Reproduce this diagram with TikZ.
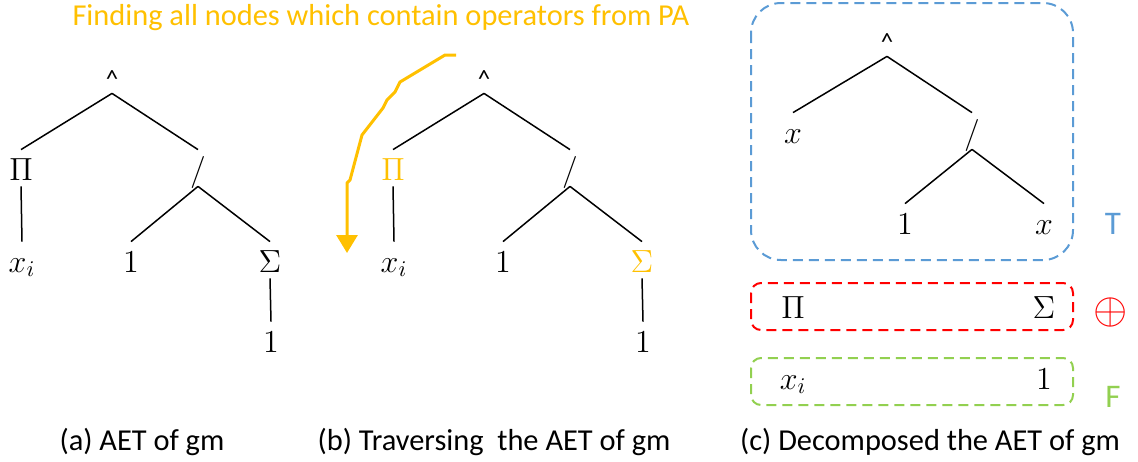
\documentclass[tikz,border=0pt]{standalone}
\usepackage{fix-cm}
\usepackage{fontspec}
\setmainfont{Carlito}
\usetikzlibrary{arrows.meta}
\definecolor{orange538}{RGB}{255,192,0}
\definecolor{blue538}{RGB}{91,155,213}
\definecolor{red538}{RGB}{255,0,0}
\definecolor{green538}{RGB}{146,208,80}

\begin{document}
\begin{tikzpicture}[
          x = 0.5pt, y = -0.5pt,
          font = \fontsize{15.2}{18}\selectfont,
          edge/.style = {draw, line width = 0.75pt},
          part/.style = {dash pattern = on 5pt off 3pt, line width = 1pt}
        ]
          \tikzstyle {sym} = [anchor = base, inner sep = 0, text height = 15pt, text depth = 3pt,
                              font = \fontsize{16}{19}\selectfont]
          \tikzstyle {top} = [sym, font = \fontsize{12.5}{15}\selectfont]
          \tikzstyle {tag} = [font = \fontsize{16.5}{19}\selectfont]
          \useasboundingbox (0,0) rectangle (1138,461);
          % place trees (a) and (b)
          \foreach \t/\dx/\op in {a/0/black, b/372/orange538} {
            \path node (\t0) [top] at ({\dx+112},87) {\textasciicircum};
            \path node (\t1) [sym, text = \op] at ({\dx+21},180) {$\Pi$};
            \path node (\t2) [sym] at ({\dx+198},180) {$/$};
            \path node (\t3) [sym] at ({\dx+22},272) {$x_i$};
            \path node (\t4) [sym] at ({\dx+131},272) {$1$};
            \path node (\t5) [sym, text = \op] at ({\dx+270},272) {$\Sigma$};
            \path node (\t6) [sym] at ({\dx+271},352) {$1$};
            \foreach \p/\c in {0/1, 0/2, 1/3, 2/4, 2/5, 5/6}
              { \draw [edge] (\t\p.south) -- (\t\c.north) ; } ;
          }
          % traversal arrow
          \path node (title) [text = orange538] at (381,18) {Finding all nodes which contain operators from PA};
          \coordinate (walk) at (456,55);
          \draw [orange538, line width = 1.5pt, line join = round, -{Triangle[width = 10.5pt, length = 9pt]}]
            (walk) -- (445,55) -- (400,82) -- (395,92) -- (387,100) -- (383,108)
            -- (362,135) -- (350,180) -- (347,183) -- (347,253) ;
          % place tree (c)
          \path node (c0) [top] at (887,50) {\textasciicircum};
          \path node (c1) [sym] at (793,143) {$x$};
          \path node (c2) [sym] at (972,143) {$/$};
          \path node (c3) [sym] at (905,234) {$1$};
          \path node (c4) [sym] at (1044,234) {$x$};
          \foreach \p/\c in {0/1, 0/2, 2/3, 2/4}
            { \draw [edge] (c\p.south) -- (c\c.north) ; } ;
          \path node (d1) [sym] at (793,318) {$\Pi$};
          \path node (d2) [sym] at (1044,318) {$\Sigma$};
          \path node (e1) [sym] at (793,389) {$x_i$};
          \path node (e2) [sym] at (1044,389) {$1$};
          % parts of the decomposition
          \draw [part, blue538, rounded corners = 15pt] (751,3) rectangle (1073,260);
          \draw [part, red538, rounded corners = 5pt] (751,283) rectangle (1073,330);
          \draw [part, green538, rounded corners = 5pt] (751,358) rectangle (1073,405);
          \path node (T) [tag, text = blue538] at (1113,224) {T};
          \path node (P) [font = \fontsize{22}{24}\selectfont, text = red538] at (1111,312) {$\oplus$};
          \path node (F) [tag, text = green538] at (1113,397) {F};
          % captions
          \path node (capa) at (142,442) {(a) AET of gm};
          \path node (capb) at (494,442) {(b) Traversing~ the AET of gm};
          \path node (capc) at (930,442) {(c) Decomposed the AET of gm};
        \end{tikzpicture}
\end{document}
